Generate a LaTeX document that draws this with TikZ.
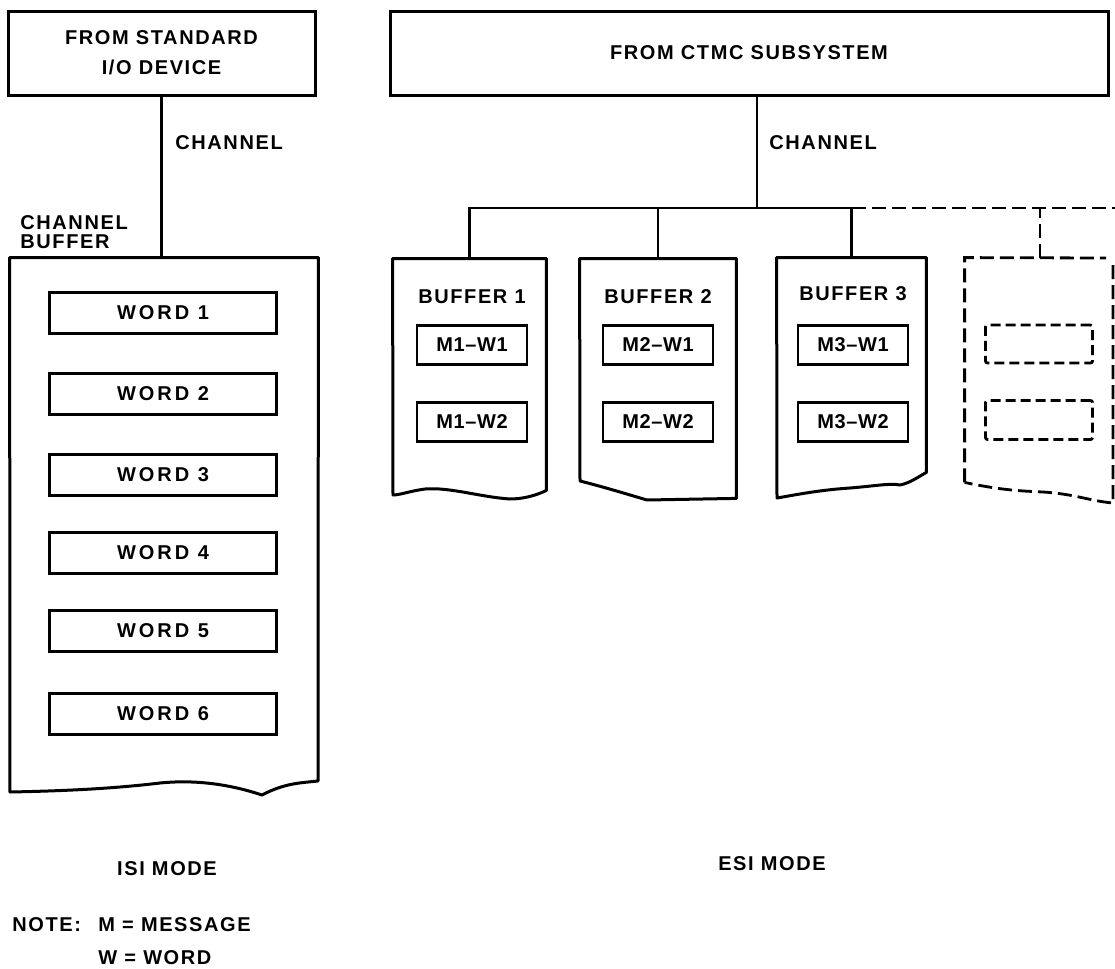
\documentclass[tikz,border=0pt]{standalone}
\usepackage{fontspec}
\setmainfont{Liberation Sans}[LetterSpace=8]
\newfontfamily\wideface{Liberation Sans}[LetterSpace=15]
\newfontfamily\tightface{Liberation Sans}[LetterSpace=3]
\usetikzlibrary{positioning,fit}
\tikzset{
  outer/.style={draw, line width=1.5pt, align=center, inner sep=0pt, font=\bfseries},
  frame/.style={inner sep=0pt},
  edge/.style={line width=1.5pt, line join=round},
  slot/.style={draw, line width=1.4pt, inner sep=0pt, font=\wideface\bfseries},
  mslot/.style={draw, line width=1.4pt, inner sep=0pt, font=\tightface\bfseries},
  ghost/.style={draw, line width=1.4pt, dash pattern=on 5pt off 2.5pt, rounded corners=1pt},
  ghostedge/.style={line width=1.4pt, dash pattern=on 7pt off 3pt},
  wire/.style={line width=1.3pt},
  tag/.style={font=\bfseries, align=left, inner sep=0pt}
}
\begin{document}
\begin{tikzpicture}[x=0.5pt,y=-0.5pt]
  \useasboundingbox (0,0) rectangle (1115,969);

  \newcommand{\wordslot}[2]{
    \node[slot, minimum width=113.5pt, minimum height=20.5pt] (w#1) at (163,#2) {WORD #1};
  }
  \newcommand{\msgpair}[3]{
    \node[tag] (t#1) at (#2,#3) {BUFFER #1};
    \node[mslot, minimum width=55pt, minimum height=19.5pt] (m#1a) at (#2,345) {M#1\textendash W1};
    \node[mslot, minimum width=55pt, minimum height=19.5pt] (m#1b) at (#2,422) {M#1\textendash W2};
  }

  \node[outer, minimum width=153.5pt, minimum height=42pt] (stdio) at (161.5,53) {FROM STANDARD\\[3pt]I/O DEVICE};
  \node[frame, fit={(10,258) (318,781)}] (cbuf) {};
  \draw[edge] (cbuf.north east) -- (318,781) .. controls (300,783) and (285,783) .. (262,795)
    .. controls (235,786) and (200,779) .. (160,783) .. controls (110,789) and (60,791) .. (10,792)
    -- (cbuf.north west) -- cycle;
  \draw[wire] (stdio.south) -- (stdio.south |- cbuf.north);
  \node[tag, anchor=west] (chl) at (175,143) {CHANNEL};
  \node[tag, anchor=west] (cbl) at (20,232) {CHANNEL\\[-2.5pt]BUFFER};

  \wordslot{1}{313}
  \wordslot{2}{394}
  \wordslot{3}{475}
  \wordslot{4}{553}
  \wordslot{5}{631}
  \wordslot{6}{714}

  \node[tag] (isi) at (167,869) {ISI MODE};
  \node[tag, anchor=west] (note) at (12,925) {NOTE:};
  \node[tag, anchor=west] (mkey) at (98,925) {M = MESSAGE};
  \node[tag, anchor=west] (wkey) at (98,958) {W = WORD};

  \node[outer, minimum width=359pt, minimum height=42pt] (ctmc) at (749,53) {FROM CTMC SUBSYSTEM};
  \coordinate (split) at (757,208);
  \draw[wire] (ctmc.south -| split) -- (split);
  \node[tag, anchor=west] (chr) at (769,143) {CHANNEL};

  \node[frame, fit={(393,259) (546,490)}] (b1) {};
  \node[frame, fit={(580,259) (736,498)}] (b2) {};
  \node[frame, fit={(777,258) (926,472)}] (b3) {};
  \node[frame, fit={(965,258) (1113,482)}] (b4) {};

  \draw[edge] (b1.north east) -- (b1.south east) .. controls (535,496) and (522,499) .. (510,499)
    .. controls (480,497) and (450,487) .. (425,489) .. controls (410,491) and (400,495) .. (393,495)
    -- (b1.north west) -- cycle;
  \draw[edge] (b2.north east) -- (b2.south east) -- (647,500) .. controls (620,492) and (600,486) .. (580,481)
    -- (b2.north west) -- cycle;
  \draw[edge] (b3.north east) -- (b3.south east) .. controls (918,477) and (910,483) .. (900,485)
    .. controls (890,483) and (875,486) .. (850,488) .. controls (820,490) and (800,494) .. (777,498)
    -- (b3.north west) -- cycle;
  \draw[ghostedge] (b4.south west) -- (b4.north west) -- (1106,258);
  \draw[ghostedge] (1113,265) -- (1113,503) .. controls (1090,501) and (1075,494) .. (1043,492)
    .. controls (1020,491) and (1000,490) .. (b4.south west);

  \draw[wire] (b1.north) |- (split) -| (b3.north);
  \draw[wire] (b2.north) -- (b2.north |- split);
  \draw[ghostedge] (b3.north |- split) -- (1115,208);
  \draw[ghostedge] (b4.north -| 1040,0) -- (1040,208);

  \msgpair{1}{472}{297}
  \msgpair{2}{658}{297}
  \msgpair{3}{853}{294}

  \node[ghost, minimum width=53.5pt, minimum height=19pt] (g1) at (1039,344) {};
  \node[ghost, minimum width=53.5pt, minimum height=19.5pt] (g2) at (1039,420) {};

  \node[tag] (esi) at (772,864) {ESI MODE};
\end{tikzpicture}
\end{document}
